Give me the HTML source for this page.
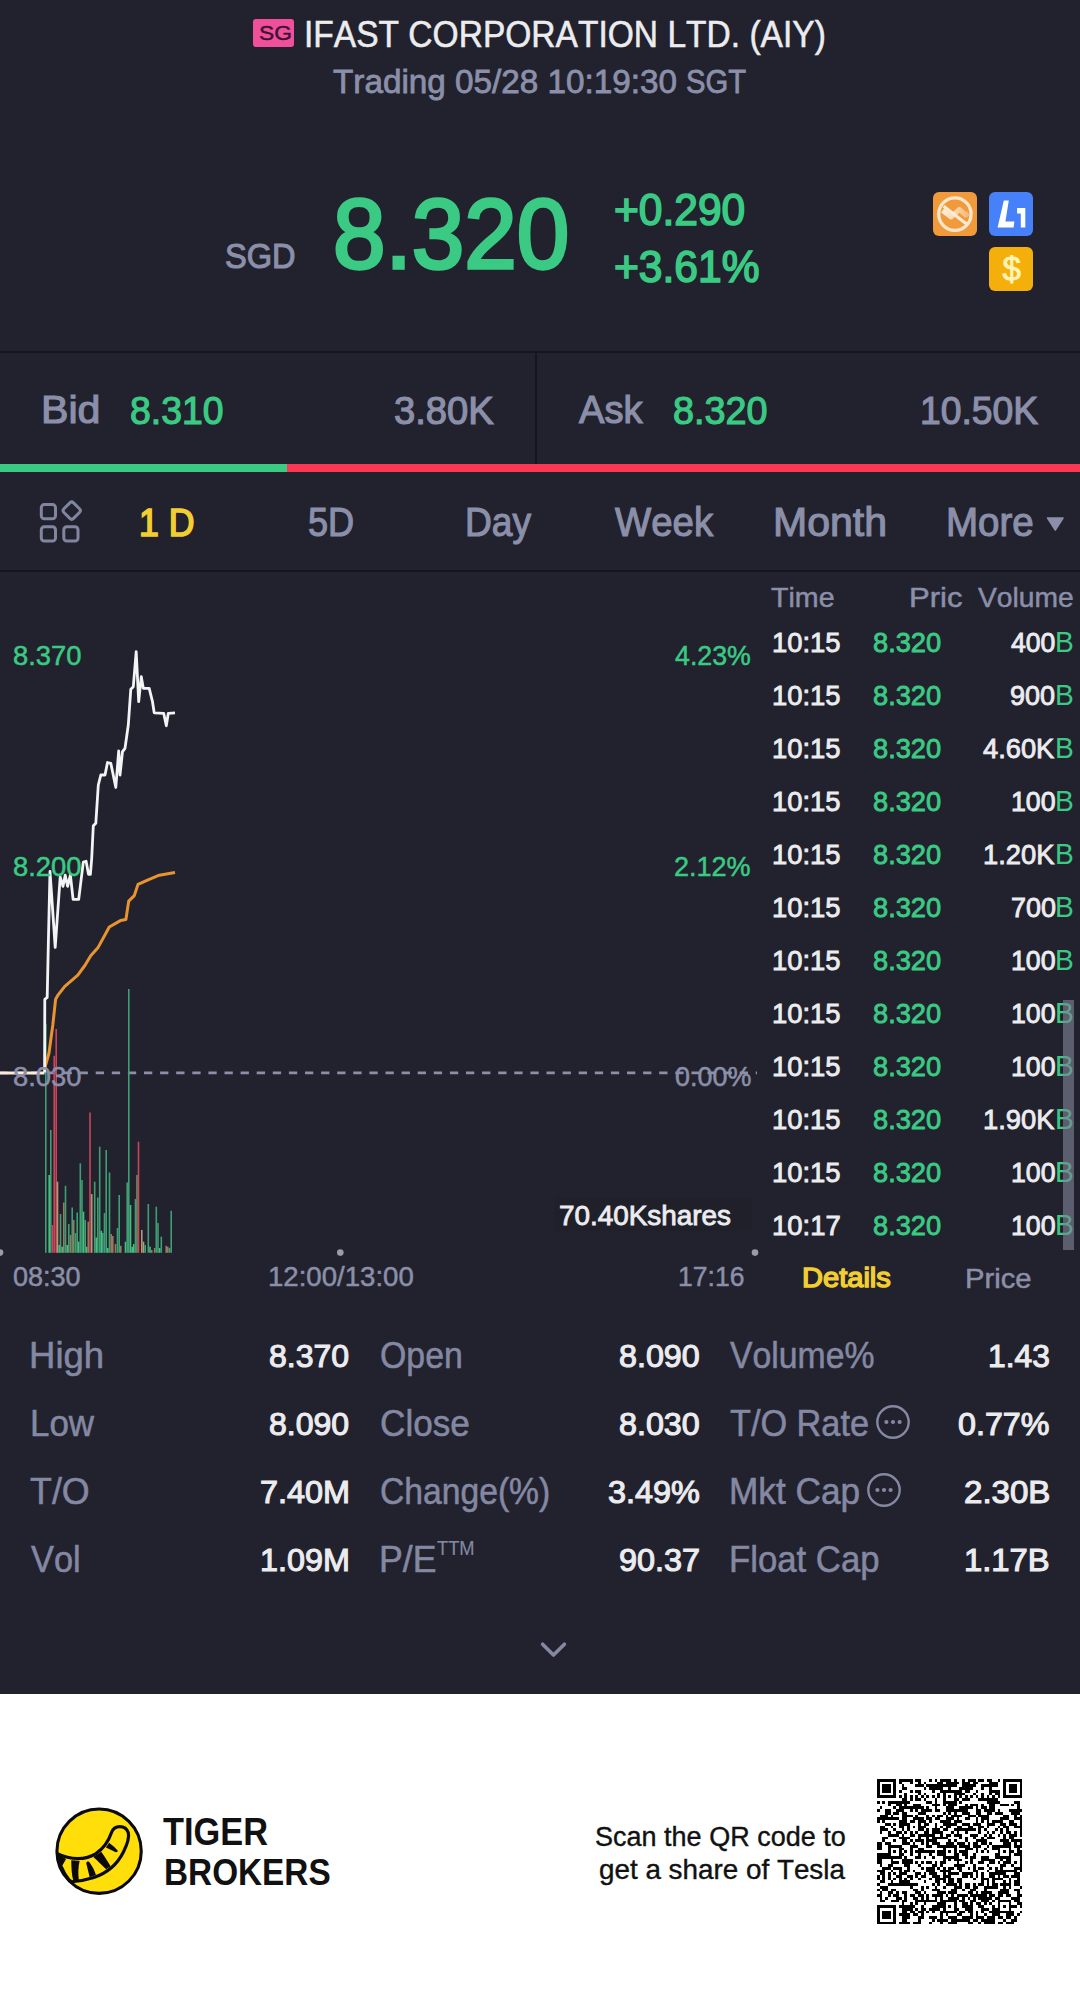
<!DOCTYPE html>
<html lang="en"><head><meta charset="utf-8"><title>IFAST CORPORATION LTD. (AIY)</title>
<style>
html,body{margin:0;padding:0}
body{width:1080px;height:2010px;position:relative;overflow:hidden;background:#21222d;font-family:"Liberation Sans",sans-serif;font-kerning:none;font-variant-ligatures:none;-webkit-font-smoothing:antialiased}
.t{position:absolute;white-space:nowrap;line-height:1;transform-origin:0 0;display:block}
.b{position:absolute;display:block}
</style></head><body>
<header aria-label="Stock header">
<div class="b" style="left:253px;top:19px;width:41px;height:28px;background:#f0509b;border-radius:3px;"></div>
<span class="t" style="left:258.56px;top:23.08px;font-size:20.9px;color:#3b1230;transform:scaleX(1.0913);-webkit-text-stroke:0.43px #3b1230;">SG</span>
<span class="t" style="left:303.85px;top:17.23px;font-size:36.7px;color:#ececef;transform:scaleX(0.9143);-webkit-text-stroke:0.55px #ececef;">IFAST CORPORATION LTD. (AIY)</span>
<span class="t" style="left:332.62px;top:65.19px;font-size:33.6px;color:#8b8fa9;transform:scaleX(0.9909);-webkit-text-stroke:0.81px #8b8fa9;">Trading 05/28 10:19:30</span>
<span class="t" style="left:686.24px;top:65.07px;font-size:33.2px;color:#8b8fa9;transform:scaleX(0.8800);-webkit-text-stroke:0.82px #8b8fa9;">SGT</span>
</header>
<section aria-label="Quote">
<span class="t" style="left:224.82px;top:239.49px;font-size:35.7px;color:#8b8fa9;transform:scaleX(0.9130);-webkit-text-stroke:1.12px #8b8fa9;">SGD</span>
<span class="t" style="left:332.98px;top:184.70px;font-size:98.3px;color:#3bca84;transform:scaleX(0.9607);-webkit-text-stroke:3.29px #3bca84;">8.320</span>
<span class="t" style="left:614.47px;top:187.44px;font-size:44.8px;color:#3bca84;transform:scaleX(0.9485);-webkit-text-stroke:1.65px #3bca84;">+0.290</span>
<span class="t" style="left:614.46px;top:244.74px;font-size:44.7px;color:#3bca84;transform:scaleX(0.9520);-webkit-text-stroke:1.64px #3bca84;">+3.61%</span>
<svg class="b" style="left:933px;top:192px" width="44" height="44" viewBox="0 0 44 44"><defs><linearGradient id="zg" x1="0" y1="0" x2="1" y2="0"><stop offset="0" stop-color="#fef1de"/><stop offset="1" stop-color="#f7b973"/></linearGradient></defs><rect width="44" height="44" rx="6" fill="#f09a3b"/><path d="M9.6 18.4l8.6 6.6 8.2-7.6 6.4 5.6 2.6-1.6" fill="none" stroke="url(#zg)" stroke-width="5" stroke-linejoin="round"/><circle cx="21.9" cy="22.1" r="16.2" fill="none" stroke="#fde6cb" stroke-width="3.3"/><path d="M10.6 14.2L33.6 32" stroke="#fdebd6" stroke-width="3.2"/></svg>
<svg class="b" style="left:989px;top:192px" width="44" height="44" viewBox="0 0 44 44"><rect width="44" height="44" rx="6" fill="#4681fa"/><path d="M14.8 8.6h5l-3.4 20.8h9l-.8 6H8.6z" fill="#fff"/><path d="M28.1 15.9h8.2v19.5h-4.5v-14h-3.7z" fill="#fff"/></svg>
<svg class="b" style="left:989px;top:247px" width="44" height="44" viewBox="0 0 44 44"><rect width="44" height="44" rx="6" fill="#f5af0b"/><text x="22.7" y="33.2" text-anchor="middle" font-family="Liberation Sans, sans-serif" font-size="33" fill="#fff4b8" stroke="#fff4b8" stroke-width="0.9">$</text></svg>
</section>
<section aria-label="Bid and ask">
<div class="b" style="left:0px;top:351px;width:1080px;height:2px;background:#15161d;"></div>
<div class="b" style="left:535px;top:352px;width:2px;height:112px;background:#15161d;"></div>
<span class="t" style="left:41.16px;top:390.41px;font-size:39.0px;color:#8b8fa9;transform:scaleX(1.0550);-webkit-text-stroke:1.18px #8b8fa9;">Bid</span>
<span class="t" style="left:129.92px;top:391.52px;font-size:38.6px;color:#3bca84;transform:scaleX(0.9680);-webkit-text-stroke:1.2px #3bca84;">8.310</span>
<span class="t" style="left:394.09px;top:391.52px;font-size:38.6px;color:#8b8fa9;transform:scaleX(0.9894);-webkit-text-stroke:1.2px #8b8fa9;">3.80K</span>
<span class="t" style="left:579.46px;top:390.41px;font-size:39.0px;color:#8b8fa9;transform:scaleX(0.9761);-webkit-text-stroke:1.18px #8b8fa9;">Ask</span>
<span class="t" style="left:672.90px;top:391.52px;font-size:38.6px;color:#3bca84;transform:scaleX(0.9787);-webkit-text-stroke:1.2px #3bca84;">8.320</span>
<span class="t" style="left:920.20px;top:391.52px;font-size:38.6px;color:#8b8fa9;transform:scaleX(0.9660);-webkit-text-stroke:1.2px #8b8fa9;">10.50K</span>
<div class="b" style="left:0px;top:463.5px;width:286.5px;height:8px;background:#3bca84;"></div>
<div class="b" style="left:286.5px;top:463.5px;width:793.5px;height:8px;background:#fb3853;"></div>
</section>
<section aria-label="Chart period tabs">
<svg class="b" style="left:36px;top:498px" width="50" height="48" viewBox="36 498 50 48" fill="none" stroke="#8185a0" stroke-width="3"><rect x="41.3" y="504.6" width="14.2" height="14.2" rx="3"/><rect x="41.3" y="526.8" width="14.2" height="14.2" rx="3"/><rect x="63.8" y="526.8" width="14.2" height="14.2" rx="3"/><rect x="64.9" y="503.8" width="13.6" height="13.6" rx="2.6" transform="rotate(45 71.7 510.6)"/></svg>
<span class="t" style="left:138.76px;top:502.84px;font-size:39.7px;color:#f2ce32;transform:scaleX(0.8979);-webkit-text-stroke:1.72px #f2ce32;">1 D</span>
<span class="t" style="left:308.37px;top:502.13px;font-size:40.5px;color:#8b8fa9;transform:scaleX(0.8913);-webkit-text-stroke:1.14px #8b8fa9;">5D</span>
<span class="t" style="left:465.16px;top:502.13px;font-size:40.5px;color:#8b8fa9;transform:scaleX(0.9177);-webkit-text-stroke:1.14px #8b8fa9;">Day</span>
<span class="t" style="left:615.34px;top:502.13px;font-size:40.5px;color:#8b8fa9;transform:scaleX(0.9475);-webkit-text-stroke:1.14px #8b8fa9;">Week</span>
<span class="t" style="left:772.55px;top:502.13px;font-size:40.5px;color:#8b8fa9;transform:scaleX(1.0128);-webkit-text-stroke:1.14px #8b8fa9;">Month</span>
<span class="t" style="left:946.05px;top:502.13px;font-size:40.5px;color:#8b8fa9;transform:scaleX(0.9509);-webkit-text-stroke:1.14px #8b8fa9;">More</span>
<svg class="b" style="left:1045px;top:515px" width="20" height="18" viewBox="1045 515 20 18"><path d="M1047.6 518h15.4l-7.7 12z" fill="#8b8fa9" stroke="#8b8fa9" stroke-width="1.6" stroke-linejoin="round"/></svg>
<div class="b" style="left:0px;top:570px;width:1080px;height:2px;background:#15161d;"></div>
</section>
<section aria-label="Intraday chart">
<svg class="b" style="left:0;top:575px" width="760" height="690" viewBox="0 575 760 690"><line x1="-0.9" y1="1072.9" x2="757" y2="1072.9" stroke="#8c8fa8" stroke-width="2.8" stroke-dasharray="8.3 7.8"/><rect x="45.0" y="1024.0" width="1.6" height="228.8" fill="#3f9e73"/><rect x="48.4" y="1175.0" width="1.6" height="77.8" fill="#45c083"/><rect x="50.0" y="1130.0" width="1.6" height="122.8" fill="#3f9e73"/><rect x="51.7" y="1225.0" width="1.6" height="27.8" fill="#c8455a"/><rect x="53.4" y="1055.8" width="1.6" height="197.0" fill="#c8455a"/><rect x="55.4" y="1029.0" width="1.6" height="223.8" fill="#c8455a"/><rect x="56.7" y="1181.7" width="1.6" height="71.1" fill="#b09a7a"/><rect x="58.4" y="1245.0" width="1.6" height="7.8" fill="#45c083"/><rect x="59.7" y="1214.0" width="1.6" height="38.8" fill="#3f9e73"/><rect x="61.4" y="1246.7" width="1.6" height="6.1" fill="#45c083"/><rect x="63.0" y="1202.5" width="1.6" height="50.3" fill="#9a7a5c"/><rect x="64.7" y="1185.8" width="1.6" height="67.0" fill="#3f9e73"/><rect x="66.4" y="1245.0" width="1.6" height="7.8" fill="#45c083"/><rect x="68.0" y="1224.0" width="1.6" height="28.8" fill="#3f9e73"/><rect x="69.7" y="1235.0" width="1.6" height="17.8" fill="#9a7a5c"/><rect x="71.4" y="1207.5" width="1.6" height="45.3" fill="#3f9e73"/><rect x="72.9" y="1220.0" width="1.6" height="32.8" fill="#9a7a5c"/><rect x="74.7" y="1233.0" width="1.6" height="19.8" fill="#3f9e73"/><rect x="76.4" y="1212.5" width="1.6" height="40.3" fill="#3f9e73"/><rect x="77.9" y="1241.7" width="1.6" height="11.1" fill="#45c083"/><rect x="79.5" y="1163.3" width="1.6" height="89.5" fill="#3f9e73"/><rect x="81.2" y="1180.0" width="1.6" height="72.8" fill="#3f9e73"/><rect x="82.7" y="1211.7" width="1.6" height="41.1" fill="#45c083"/><rect x="84.4" y="1220.0" width="1.6" height="32.8" fill="#3f9e73"/><rect x="85.9" y="1246.7" width="1.6" height="6.1" fill="#45c083"/><rect x="87.5" y="1221.7" width="1.6" height="31.1" fill="#9a7a5c"/><rect x="89.2" y="1112.5" width="1.6" height="140.3" fill="#c8455a"/><rect x="90.9" y="1194.0" width="1.6" height="58.8" fill="#b09a7a"/><rect x="93.9" y="1181.7" width="1.6" height="71.1" fill="#3f9e73"/><rect x="95.5" y="1237.5" width="1.6" height="15.3" fill="#45c083"/><rect x="97.0" y="1197.5" width="1.6" height="55.3" fill="#3f9e73"/><rect x="98.9" y="1146.7" width="1.6" height="106.1" fill="#3f9e73"/><rect x="100.5" y="1230.8" width="1.6" height="22.0" fill="#45c083"/><rect x="102.0" y="1233.0" width="1.6" height="19.8" fill="#3f9e73"/><rect x="103.7" y="1213.0" width="1.6" height="39.8" fill="#3f9e73"/><rect x="105.4" y="1150.0" width="1.6" height="102.8" fill="#3f9e73"/><rect x="107.0" y="1248.0" width="1.6" height="4.8" fill="#45c083"/><rect x="108.7" y="1172.5" width="1.6" height="80.3" fill="#3f9e73"/><rect x="110.4" y="1234.0" width="1.6" height="18.8" fill="#9a7a5c"/><rect x="112.0" y="1236.0" width="1.6" height="16.8" fill="#9a7a5c"/><rect x="114.7" y="1244.0" width="1.6" height="8.8" fill="#9a7a5c"/><rect x="116.7" y="1228.0" width="1.6" height="24.8" fill="#3f9e73"/><rect x="118.4" y="1195.0" width="1.6" height="57.8" fill="#3f9e73"/><rect x="120.0" y="1245.8" width="1.6" height="7.0" fill="#9a7a5c"/><rect x="124.7" y="1241.7" width="1.6" height="11.1" fill="#45c083"/><rect x="126.4" y="1182.5" width="1.6" height="70.3" fill="#3f9e73"/><rect x="128.0" y="989.0" width="1.6" height="263.8" fill="#3f9e73"/><rect x="129.7" y="1205.0" width="1.6" height="47.8" fill="#45c083"/><rect x="131.4" y="1246.7" width="1.6" height="6.1" fill="#45c083"/><rect x="133.0" y="1244.0" width="1.6" height="8.8" fill="#45c083"/><rect x="134.7" y="1199.0" width="1.6" height="53.8" fill="#3f9e73"/><rect x="136.2" y="1175.0" width="1.6" height="77.8" fill="#6f8f66"/><rect x="137.7" y="1141.7" width="1.6" height="111.1" fill="#c8455a"/><rect x="141.0" y="1230.0" width="1.6" height="22.8" fill="#b09a7a"/><rect x="142.7" y="1241.7" width="1.6" height="11.1" fill="#b09a7a"/><rect x="144.4" y="1245.0" width="1.6" height="7.8" fill="#3f9e73"/><rect x="147.5" y="1204.0" width="1.6" height="48.8" fill="#3f9e73"/><rect x="149.2" y="1246.7" width="1.6" height="6.1" fill="#45c083"/><rect x="150.9" y="1250.0" width="1.6" height="2.8" fill="#9a7a5c"/><rect x="153.9" y="1248.0" width="1.6" height="4.8" fill="#9a7a5c"/><rect x="155.5" y="1206.7" width="1.6" height="46.1" fill="#3f9e73"/><rect x="157.2" y="1223.0" width="1.6" height="29.8" fill="#3f9e73"/><rect x="158.9" y="1248.0" width="1.6" height="4.8" fill="#45c083"/><rect x="160.5" y="1236.7" width="1.6" height="16.1" fill="#3f9e73"/><rect x="165.4" y="1245.8" width="1.6" height="7.0" fill="#9a7a5c"/><rect x="167.0" y="1246.7" width="1.6" height="6.1" fill="#9a7a5c"/><rect x="168.7" y="1248.0" width="1.6" height="4.8" fill="#3f9e73"/><rect x="170.4" y="1210.8" width="1.6" height="42.0" fill="#3f9e73"/><polyline fill="none" stroke="#ea9430" stroke-width="3" stroke-linejoin="round" points="44.4,1069.6 49,1053 52.8,1025 55.6,999.3 58.3,994.6 64.8,986.3 77.8,975.2 85.2,965 90.7,955.7 98.1,947.4 109.3,927 120.4,920.6 125.9,919.6 128.7,901.1 134.3,895.6 138,884.4 148.1,879.8 159.3,875.2 175,872.4"/><polyline fill="none" stroke="#f4f4f6" stroke-width="2.8" stroke-linejoin="round" points="44.6,1072.4 44.8,999.3 47.2,997.4 48.5,936.3 50,871.5 53.7,925.2 55.2,947.4 60.2,877 63,886.3 65.2,875.2 67.6,886.3 70.4,875.2 73.1,899.3 78.7,899.3 83.3,862.2 86.1,861.3 88.5,874.3 90.4,874.3 91.7,858.5 93.3,825.8 95.8,823.3 98.3,785 100.8,775 105,775 107.5,762.5 110.8,763.3 115.8,787.5 118.7,750.8 120,775 122.5,751.7 125,748.3 128.3,725 130.8,689.2 133.3,686.7 136.2,651.7 138.7,701.7 141.3,676.7 143.3,688.3 149.2,688.3 152.5,701.7 154.2,712.8 163.7,713.3 166.3,725.8 168.3,713.3 175,712.8"/><line x1="0" y1="1072.9" x2="44.5" y2="1072.9" stroke="#fcebd9" stroke-width="3"/><circle cx="0" cy="1252.6" r="3.3" fill="#9a9ca8"/><circle cx="340.3" cy="1252.6" r="3.3" fill="#9a9ca8"/><circle cx="755" cy="1252.6" r="3.3" fill="#9a9ca8"/></svg>
<span class="t" style="left:13.04px;top:642.07px;font-size:27.8px;color:#3bca84;transform:scaleX(0.9846);-webkit-text-stroke:0.51px #3bca84;">8.370</span>
<span class="t" style="left:675.22px;top:641.35px;font-size:28.2px;color:#3bca84;transform:scaleX(0.9493);-webkit-text-stroke:0.51px #3bca84;">4.23%</span>
<span class="t" style="left:13.04px;top:852.97px;font-size:27.8px;color:#3bca84;transform:scaleX(0.9846);-webkit-text-stroke:0.51px #3bca84;">8.200</span>
<span class="t" style="left:674.47px;top:852.25px;font-size:28.2px;color:#3bca84;transform:scaleX(0.9588);-webkit-text-stroke:0.51px #3bca84;">2.12%</span>
<span class="t" style="left:13.04px;top:1063.27px;font-size:27.8px;color:#8b8fa9;transform:scaleX(0.9846);-webkit-text-stroke:0.51px #8b8fa9;">8.030</span>
<span class="t" style="left:674.78px;top:1063.27px;font-size:27.8px;color:#8b8fa9;transform:scaleX(0.9686);-webkit-text-stroke:0.51px #8b8fa9;">0.00%</span>
<div class="b" style="left:554px;top:1197px;width:198px;height:34px;background:#1f202a;"></div>
<span class="t" style="left:558.97px;top:1200.58px;font-size:28.3px;color:#ececef;transform:scaleX(0.9852);-webkit-text-stroke:0.88px #ececef;">70.40Kshares</span>
<span class="t" style="left:13.17px;top:1262.68px;font-size:27.5px;color:#8b8fa9;transform:scaleX(0.9831);-webkit-text-stroke:0.51px #8b8fa9;">08:30</span>
<span class="t" style="left:268.13px;top:1262.68px;font-size:27.5px;color:#8b8fa9;transform:scaleX(1.0031);-webkit-text-stroke:0.51px #8b8fa9;">12:00/13:00</span>
<span class="t" style="left:677.81px;top:1262.68px;font-size:27.5px;color:#8b8fa9;transform:scaleX(0.9653);-webkit-text-stroke:0.51px #8b8fa9;">17:16</span>
</section>
<section aria-label="Time and sales">
<span class="t" style="left:771.48px;top:584.36px;font-size:27.3px;color:#8b8fa9;transform:scaleX(1.0479);-webkit-text-stroke:0.49px #8b8fa9;">Time</span>
<span class="t" style="left:908.68px;top:584.36px;font-size:27.3px;color:#8b8fa9;transform:scaleX(1.1363);-webkit-text-stroke:0.49px #8b8fa9;">Pric</span>
<span class="t" style="left:977.90px;top:584.36px;font-size:27.3px;color:#8b8fa9;transform:scaleX(1.0343);-webkit-text-stroke:0.49px #8b8fa9;">Volume</span>
<span class="t" style="left:771.60px;top:628.50px;font-size:27.6px;color:#ececef;transform:scaleX(0.9927);-webkit-text-stroke:0.86px #ececef;">10:15</span>
<span class="t" style="left:873.20px;top:628.50px;font-size:27.6px;color:#3bca84;transform:scaleX(0.9871);-webkit-text-stroke:0.86px #3bca84;">8.320</span>
<span class="t" style="left:1011.08px;top:628.50px;font-size:27.6px;color:#ececef;transform:scaleX(0.9636);-webkit-text-stroke:0.86px #ececef;">400</span>
<span class="t" style="left:1055.29px;top:627.90px;font-size:28.6px;color:#3bca84;transform:scaleX(0.9854);">B</span>
<span class="t" style="left:771.60px;top:681.50px;font-size:27.6px;color:#ececef;transform:scaleX(0.9927);-webkit-text-stroke:0.86px #ececef;">10:15</span>
<span class="t" style="left:873.20px;top:681.50px;font-size:27.6px;color:#3bca84;transform:scaleX(0.9871);-webkit-text-stroke:0.86px #3bca84;">8.320</span>
<span class="t" style="left:1010.42px;top:681.50px;font-size:27.6px;color:#ececef;transform:scaleX(0.9782);-webkit-text-stroke:0.86px #ececef;">900</span>
<span class="t" style="left:1055.29px;top:680.90px;font-size:28.6px;color:#3bca84;transform:scaleX(0.9854);">B</span>
<span class="t" style="left:771.60px;top:734.50px;font-size:27.6px;color:#ececef;transform:scaleX(0.9927);-webkit-text-stroke:0.86px #ececef;">10:15</span>
<span class="t" style="left:873.20px;top:734.50px;font-size:27.6px;color:#3bca84;transform:scaleX(0.9871);-webkit-text-stroke:0.86px #3bca84;">8.320</span>
<span class="t" style="left:983.46px;top:734.50px;font-size:27.6px;color:#ececef;transform:scaleX(0.9880);-webkit-text-stroke:0.86px #ececef;">4.60K</span>
<span class="t" style="left:1055.29px;top:733.90px;font-size:28.6px;color:#3bca84;transform:scaleX(0.9854);">B</span>
<span class="t" style="left:771.60px;top:787.50px;font-size:27.6px;color:#ececef;transform:scaleX(0.9927);-webkit-text-stroke:0.86px #ececef;">10:15</span>
<span class="t" style="left:873.20px;top:787.50px;font-size:27.6px;color:#3bca84;transform:scaleX(0.9871);-webkit-text-stroke:0.86px #3bca84;">8.320</span>
<span class="t" style="left:1010.85px;top:787.50px;font-size:27.6px;color:#ececef;transform:scaleX(0.9687);-webkit-text-stroke:0.86px #ececef;">100</span>
<span class="t" style="left:1055.29px;top:786.90px;font-size:28.6px;color:#3bca84;transform:scaleX(0.9854);">B</span>
<span class="t" style="left:771.60px;top:840.50px;font-size:27.6px;color:#ececef;transform:scaleX(0.9927);-webkit-text-stroke:0.86px #ececef;">10:15</span>
<span class="t" style="left:873.20px;top:840.50px;font-size:27.6px;color:#3bca84;transform:scaleX(0.9871);-webkit-text-stroke:0.86px #3bca84;">8.320</span>
<span class="t" style="left:983.31px;top:840.50px;font-size:27.6px;color:#ececef;transform:scaleX(0.9901);-webkit-text-stroke:0.86px #ececef;">1.20K</span>
<span class="t" style="left:1055.29px;top:839.90px;font-size:28.6px;color:#3bca84;transform:scaleX(0.9854);">B</span>
<span class="t" style="left:771.60px;top:893.50px;font-size:27.6px;color:#ececef;transform:scaleX(0.9927);-webkit-text-stroke:0.86px #ececef;">10:15</span>
<span class="t" style="left:873.20px;top:893.50px;font-size:27.6px;color:#3bca84;transform:scaleX(0.9871);-webkit-text-stroke:0.86px #3bca84;">8.320</span>
<span class="t" style="left:1010.51px;top:893.50px;font-size:27.6px;color:#ececef;transform:scaleX(0.9763);-webkit-text-stroke:0.86px #ececef;">700</span>
<span class="t" style="left:1055.29px;top:892.90px;font-size:28.6px;color:#3bca84;transform:scaleX(0.9854);">B</span>
<span class="t" style="left:771.60px;top:946.50px;font-size:27.6px;color:#ececef;transform:scaleX(0.9927);-webkit-text-stroke:0.86px #ececef;">10:15</span>
<span class="t" style="left:873.20px;top:946.50px;font-size:27.6px;color:#3bca84;transform:scaleX(0.9871);-webkit-text-stroke:0.86px #3bca84;">8.320</span>
<span class="t" style="left:1010.85px;top:946.50px;font-size:27.6px;color:#ececef;transform:scaleX(0.9687);-webkit-text-stroke:0.86px #ececef;">100</span>
<span class="t" style="left:1055.29px;top:945.90px;font-size:28.6px;color:#3bca84;transform:scaleX(0.9854);">B</span>
<span class="t" style="left:771.60px;top:999.50px;font-size:27.6px;color:#ececef;transform:scaleX(0.9927);-webkit-text-stroke:0.86px #ececef;">10:15</span>
<span class="t" style="left:873.20px;top:999.50px;font-size:27.6px;color:#3bca84;transform:scaleX(0.9871);-webkit-text-stroke:0.86px #3bca84;">8.320</span>
<span class="t" style="left:1010.85px;top:999.50px;font-size:27.6px;color:#ececef;transform:scaleX(0.9687);-webkit-text-stroke:0.86px #ececef;">100</span>
<span class="t" style="left:1055.29px;top:998.90px;font-size:28.6px;color:#3bca84;transform:scaleX(0.9854);">B</span>
<span class="t" style="left:771.60px;top:1052.50px;font-size:27.6px;color:#ececef;transform:scaleX(0.9927);-webkit-text-stroke:0.86px #ececef;">10:15</span>
<span class="t" style="left:873.20px;top:1052.50px;font-size:27.6px;color:#3bca84;transform:scaleX(0.9871);-webkit-text-stroke:0.86px #3bca84;">8.320</span>
<span class="t" style="left:1010.85px;top:1052.50px;font-size:27.6px;color:#ececef;transform:scaleX(0.9687);-webkit-text-stroke:0.86px #ececef;">100</span>
<span class="t" style="left:1055.29px;top:1051.90px;font-size:28.6px;color:#3bca84;transform:scaleX(0.9854);">B</span>
<span class="t" style="left:771.60px;top:1105.50px;font-size:27.6px;color:#ececef;transform:scaleX(0.9927);-webkit-text-stroke:0.86px #ececef;">10:15</span>
<span class="t" style="left:873.20px;top:1105.50px;font-size:27.6px;color:#3bca84;transform:scaleX(0.9871);-webkit-text-stroke:0.86px #3bca84;">8.320</span>
<span class="t" style="left:983.31px;top:1105.50px;font-size:27.6px;color:#ececef;transform:scaleX(0.9901);-webkit-text-stroke:0.86px #ececef;">1.90K</span>
<span class="t" style="left:1055.29px;top:1104.90px;font-size:28.6px;color:#3bca84;transform:scaleX(0.9854);">B</span>
<span class="t" style="left:771.60px;top:1158.50px;font-size:27.6px;color:#ececef;transform:scaleX(0.9927);-webkit-text-stroke:0.86px #ececef;">10:15</span>
<span class="t" style="left:873.20px;top:1158.50px;font-size:27.6px;color:#3bca84;transform:scaleX(0.9871);-webkit-text-stroke:0.86px #3bca84;">8.320</span>
<span class="t" style="left:1010.85px;top:1158.50px;font-size:27.6px;color:#ececef;transform:scaleX(0.9687);-webkit-text-stroke:0.86px #ececef;">100</span>
<span class="t" style="left:1055.29px;top:1157.90px;font-size:28.6px;color:#3bca84;transform:scaleX(0.9854);">B</span>
<span class="t" style="left:771.59px;top:1211.50px;font-size:27.6px;color:#ececef;transform:scaleX(0.9962);-webkit-text-stroke:0.86px #ececef;">10:17</span>
<span class="t" style="left:873.20px;top:1211.50px;font-size:27.6px;color:#3bca84;transform:scaleX(0.9871);-webkit-text-stroke:0.86px #3bca84;">8.320</span>
<span class="t" style="left:1010.85px;top:1211.50px;font-size:27.6px;color:#ececef;transform:scaleX(0.9687);-webkit-text-stroke:0.86px #ececef;">100</span>
<span class="t" style="left:1055.29px;top:1210.90px;font-size:28.6px;color:#3bca84;transform:scaleX(0.9854);">B</span>
<div class="b" style="left:1063.3px;top:1000px;width:10.7px;height:250px;background:rgba(128,131,152,0.62);"></div>
<span class="t" style="left:801.85px;top:1265.10px;font-size:27.0px;color:#f2ce32;transform:scaleX(1.0768);-webkit-text-stroke:1.41px #f2ce32;">Details</span>
<span class="t" style="left:964.53px;top:1263.54px;font-size:28.3px;color:#8b8fa9;transform:scaleX(1.0319);-webkit-text-stroke:0.51px #8b8fa9;">Price</span>
</section>
<section aria-label="Key statistics">
<span class="t" style="left:29.44px;top:1337.63px;font-size:36.4px;color:#8488a2;transform:scaleX(1.0043);-webkit-text-stroke:0.54px #8488a2;">High</span>
<span class="t" style="left:269.09px;top:1340.65px;font-size:31.4px;color:#ececef;transform:scaleX(1.0203);-webkit-text-stroke:1.08px #ececef;">8.370</span>
<span class="t" style="left:29.58px;top:1405.63px;font-size:36.4px;color:#8488a2;transform:scaleX(0.9599);-webkit-text-stroke:0.54px #8488a2;">Low</span>
<span class="t" style="left:269.09px;top:1408.65px;font-size:31.4px;color:#ececef;transform:scaleX(1.0203);-webkit-text-stroke:1.08px #ececef;">8.090</span>
<span class="t" style="left:30.24px;top:1473.63px;font-size:36.4px;color:#8488a2;transform:scaleX(0.9847);-webkit-text-stroke:0.54px #8488a2;">T/O</span>
<span class="t" style="left:259.82px;top:1476.65px;font-size:31.4px;color:#ececef;transform:scaleX(1.0318);-webkit-text-stroke:1.08px #ececef;">7.40M</span>
<span class="t" style="left:30.89px;top:1541.63px;font-size:36.4px;color:#8488a2;transform:scaleX(0.9440);-webkit-text-stroke:0.54px #8488a2;">Vol</span>
<span class="t" style="left:260.02px;top:1544.65px;font-size:31.4px;color:#ececef;transform:scaleX(1.0295);-webkit-text-stroke:1.08px #ececef;">1.09M</span>
<span class="t" style="left:380.14px;top:1337.63px;font-size:36.4px;color:#8488a2;transform:scaleX(0.9300);-webkit-text-stroke:0.54px #8488a2;">Open</span>
<span class="t" style="left:619.08px;top:1340.65px;font-size:31.4px;color:#ececef;transform:scaleX(1.0269);-webkit-text-stroke:1.08px #ececef;">8.090</span>
<span class="t" style="left:379.96px;top:1405.63px;font-size:36.4px;color:#8488a2;transform:scaleX(0.9656);-webkit-text-stroke:0.54px #8488a2;">Close</span>
<span class="t" style="left:619.08px;top:1408.65px;font-size:31.4px;color:#ececef;transform:scaleX(1.0269);-webkit-text-stroke:1.08px #ececef;">8.030</span>
<span class="t" style="left:380.03px;top:1473.63px;font-size:36.4px;color:#8488a2;transform:scaleX(0.9250);-webkit-text-stroke:0.54px #8488a2;">Change(%)</span>
<span class="t" style="left:607.75px;top:1476.65px;font-size:31.4px;color:#ececef;transform:scaleX(1.0324);-webkit-text-stroke:1.08px #ececef;">3.49%</span>
<span class="t" style="left:378.82px;top:1541.63px;font-size:36.4px;color:#8488a2;transform:scaleX(0.9796);-webkit-text-stroke:0.54px #8488a2;">P/E</span>
<span class="t" style="left:618.97px;top:1544.65px;font-size:31.4px;color:#ececef;transform:scaleX(1.0331);-webkit-text-stroke:1.08px #ececef;">90.37</span>
<span class="t" style="left:730.39px;top:1337.63px;font-size:36.4px;color:#8488a2;transform:scaleX(0.9280);-webkit-text-stroke:0.54px #8488a2;">Volume%</span>
<span class="t" style="left:988.07px;top:1340.65px;font-size:31.4px;color:#ececef;transform:scaleX(1.0120);-webkit-text-stroke:1.08px #ececef;">1.43</span>
<span class="t" style="left:729.77px;top:1405.63px;font-size:36.4px;color:#8488a2;transform:scaleX(0.9414);-webkit-text-stroke:0.54px #8488a2;">T/O Rate</span>
<span class="t" style="left:958.23px;top:1408.65px;font-size:31.4px;color:#ececef;transform:scaleX(1.0270);-webkit-text-stroke:1.08px #ececef;">0.77%</span>
<span class="t" style="left:729.05px;top:1473.63px;font-size:36.4px;color:#8488a2;transform:scaleX(0.9680);-webkit-text-stroke:0.54px #8488a2;">Mkt Cap</span>
<span class="t" style="left:963.82px;top:1476.65px;font-size:31.4px;color:#ececef;transform:scaleX(1.0534);-webkit-text-stroke:1.08px #ececef;">2.30B</span>
<span class="t" style="left:729.09px;top:1541.63px;font-size:36.4px;color:#8488a2;transform:scaleX(0.9545);-webkit-text-stroke:0.54px #8488a2;">Float Cap</span>
<span class="t" style="left:964.49px;top:1544.65px;font-size:31.4px;color:#ececef;transform:scaleX(1.0451);-webkit-text-stroke:1.08px #ececef;">1.17B</span>
<span class="t" style="left:436.97px;top:1539.31px;font-size:19.8px;color:#8488a2;transform:scaleX(0.9253);-webkit-text-stroke:0.19px #8488a2;">TTM</span>
<svg class="b" style="left:875px;top:1403.5px" width="36" height="36" viewBox="-18 -18 36 36"><circle r="15.7" fill="none" stroke="#8488a2" stroke-width="2.4"/><circle cx="-6.6" r="2.1" fill="#8488a2"/><circle r="2.1" fill="#8488a2"/><circle cx="6.6" r="2.1" fill="#8488a2"/></svg>
<svg class="b" style="left:866.3px;top:1472px" width="36" height="36" viewBox="-18 -18 36 36"><circle r="15.7" fill="none" stroke="#8488a2" stroke-width="2.4"/><circle cx="-6.6" r="2.1" fill="#8488a2"/><circle r="2.1" fill="#8488a2"/><circle cx="6.6" r="2.1" fill="#8488a2"/></svg>
<svg class="b" style="left:536px;top:1636px" width="36" height="26" viewBox="536 1636 36 26"><path d="M542.6 1644.2l10.9 10.9 10.9-10.9" fill="none" stroke="#8488a3" stroke-width="3.6" stroke-linecap="round" stroke-linejoin="round"/></svg>
</section>
<footer aria-label="Tiger Brokers footer">
<div class="b" style="left:0px;top:1693.5px;width:1080px;height:316.5px;background:#ffffff;"></div>
<svg class="b" style="left:45px;top:1795px" width="110" height="110" viewBox="0 0 1080 1080"><circle cx="531" cy="552" r="414" fill="#ffde09" stroke="#0a0a0a" stroke-width="30"/>
<path d="M122 575C250 640 400 640 500 575C580 520 625 450 652 370C680 290 790 290 818 370C830 420 800 500 770 560C700 700 600 770 480 810C400 835 330 848 262 852L238 836Q185 770 160 706" fill="none" stroke="#0a0a0a" stroke-width="31" stroke-linecap="round" stroke-linejoin="round"/>
<path d="M116 572L207 628L162 708L126 660z" fill="#0a0a0a"/>
<path d="M258 640L340 645C325 710 325 770 332 832L278 845C262 780 258 710 258 640z" fill="#0a0a0a"/>
<path d="M405 670C410 645 430 650 440 665C470 705 490 750 500 785L438 808C428 760 415 710 405 670z" fill="#0a0a0a"/>
<path d="M474 608L552 558C588 608 618 658 644 700L600 730C560 690 520 648 474 608z" fill="#0a0a0a"/>
<path d="M598 515L630 468C660 490 700 525 715 548C712 562 700 565 690 560C660 545 630 528 598 515z" fill="#0a0a0a"/></svg>
<span class="t" style="left:163.41px;top:1813.50px;font-size:37.9px;color:#111;transform:scaleX(0.9066);font-weight:700;">TIGER</span>
<span class="t" style="left:163.77px;top:1853.50px;font-size:37.5px;color:#111;transform:scaleX(0.8886);font-weight:700;">BROKERS</span>
<span class="t" style="left:594.55px;top:1821.52px;font-size:28.2px;color:#111;transform:scaleX(0.9584);-webkit-text-stroke:0.4px #111;">Scan the QR code to</span>
<span class="t" style="left:598.61px;top:1855.31px;font-size:28.5px;color:#111;transform:scaleX(0.9763);-webkit-text-stroke:0.39px #111;">get a share of Tesla</span>
<svg class="b" style="left:876.8px;top:1778.8px" width="145.4" height="145.4" viewBox="0 0 53 53" shape-rendering="crispEdges"><path fill="#000" d="M0 0h7v1h-7zM8 0h5v1h-5zM14 0h2v1h-2zM19 0h1v1h-1zM21 0h1v1h-1zM23 0h4v1h-4zM28 0h1v1h-1zM31 0h1v1h-1zM33 0h3v1h-3zM37 0h2v1h-2zM40 0h2v1h-2zM44 0h1v1h-1zM46 0h7v1h-7zM0 1h1v1h-1zM6 1h1v1h-1zM8 1h1v1h-1zM12 1h1v1h-1zM15 1h1v1h-1zM17 1h1v1h-1zM22 1h2v1h-2zM25 1h5v1h-5zM31 1h3v1h-3zM35 1h2v1h-2zM41 1h3v1h-3zM46 1h1v1h-1zM52 1h1v1h-1zM0 2h1v1h-1zM2 2h3v1h-3zM6 2h1v1h-1zM9 2h1v1h-1zM14 2h3v1h-3zM18 2h11v1h-11zM31 2h5v1h-5zM38 2h6v1h-6zM46 2h1v1h-1zM48 2h3v1h-3zM52 2h1v1h-1zM0 3h1v1h-1zM2 3h3v1h-3zM6 3h1v1h-1zM9 3h2v1h-2zM17 3h1v1h-1zM19 3h5v1h-5zM26 3h1v1h-1zM30 3h5v1h-5zM38 3h1v1h-1zM41 3h1v1h-1zM46 3h1v1h-1zM48 3h3v1h-3zM52 3h1v1h-1zM0 4h1v1h-1zM2 4h3v1h-3zM6 4h1v1h-1zM8 4h1v1h-1zM12 4h1v1h-1zM14 4h2v1h-2zM20 4h1v1h-1zM23 4h8v1h-8zM32 4h2v1h-2zM36 4h1v1h-1zM41 4h4v1h-4zM46 4h1v1h-1zM48 4h3v1h-3zM52 4h1v1h-1zM0 5h1v1h-1zM6 5h1v1h-1zM10 5h1v1h-1zM15 5h1v1h-1zM17 5h1v1h-1zM22 5h1v1h-1zM24 5h1v1h-1zM28 5h4v1h-4zM35 5h1v1h-1zM38 5h1v1h-1zM41 5h1v1h-1zM43 5h2v1h-2zM46 5h1v1h-1zM52 5h1v1h-1zM0 6h7v1h-7zM8 6h1v1h-1zM10 6h1v1h-1zM12 6h1v1h-1zM14 6h1v1h-1zM16 6h1v1h-1zM18 6h1v1h-1zM20 6h1v1h-1zM22 6h1v1h-1zM24 6h1v1h-1zM26 6h1v1h-1zM28 6h1v1h-1zM30 6h1v1h-1zM32 6h1v1h-1zM34 6h1v1h-1zM36 6h1v1h-1zM38 6h1v1h-1zM40 6h1v1h-1zM42 6h1v1h-1zM44 6h1v1h-1zM46 6h7v1h-7zM9 7h2v1h-2zM12 7h1v1h-1zM14 7h2v1h-2zM17 7h1v1h-1zM21 7h1v1h-1zM24 7h1v1h-1zM28 7h2v1h-2zM31 7h3v1h-3zM37 7h7v1h-7zM0 8h1v1h-1zM2 8h1v1h-1zM4 8h8v1h-8zM18 8h2v1h-2zM21 8h1v1h-1zM24 8h5v1h-5zM30 8h1v1h-1zM40 8h5v1h-5zM50 8h2v1h-2zM4 9h1v1h-1zM7 9h2v1h-2zM10 9h1v1h-1zM13 9h3v1h-3zM20 9h3v1h-3zM24 9h1v1h-1zM26 9h3v1h-3zM32 9h1v1h-1zM34 9h3v1h-3zM38 9h1v1h-1zM41 9h2v1h-2zM45 9h3v1h-3zM49 9h1v1h-1zM51 9h1v1h-1zM1 10h1v1h-1zM6 10h1v1h-1zM8 10h9v1h-9zM18 10h1v1h-1zM21 10h1v1h-1zM25 10h3v1h-3zM30 10h5v1h-5zM36 10h1v1h-1zM38 10h2v1h-2zM41 10h2v1h-2zM51 10h1v1h-1zM0 11h1v1h-1zM3 11h2v1h-2zM7 11h3v1h-3zM12 11h1v1h-1zM14 11h1v1h-1zM16 11h4v1h-4zM21 11h2v1h-2zM25 11h8v1h-8zM36 11h2v1h-2zM39 11h4v1h-4zM44 11h1v1h-1zM48 11h5v1h-5zM3 12h2v1h-2zM6 12h2v1h-2zM9 12h2v1h-2zM15 12h3v1h-3zM24 12h1v1h-1zM26 12h1v1h-1zM28 12h1v1h-1zM31 12h3v1h-3zM36 12h2v1h-2zM40 12h2v1h-2zM43 12h3v1h-3zM49 12h3v1h-3zM1 13h3v1h-3zM5 13h1v1h-1zM9 13h4v1h-4zM14 13h1v1h-1zM18 13h1v1h-1zM20 13h1v1h-1zM22 13h2v1h-2zM25 13h1v1h-1zM27 13h4v1h-4zM33 13h3v1h-3zM37 13h4v1h-4zM46 13h2v1h-2zM50 13h1v1h-1zM52 13h1v1h-1zM0 14h8v1h-8zM9 14h2v1h-2zM13 14h4v1h-4zM18 14h2v1h-2zM21 14h2v1h-2zM25 14h3v1h-3zM29 14h1v1h-1zM32 14h2v1h-2zM36 14h1v1h-1zM38 14h3v1h-3zM45 14h3v1h-3zM50 14h3v1h-3zM0 15h1v1h-1zM2 15h1v1h-1zM8 15h3v1h-3zM12 15h2v1h-2zM15 15h3v1h-3zM19 15h1v1h-1zM23 15h4v1h-4zM28 15h3v1h-3zM36 15h1v1h-1zM38 15h1v1h-1zM40 15h1v1h-1zM42 15h4v1h-4zM48 15h2v1h-2zM52 15h1v1h-1zM3 16h2v1h-2zM6 16h1v1h-1zM8 16h4v1h-4zM15 16h1v1h-1zM17 16h2v1h-2zM21 16h1v1h-1zM24 16h5v1h-5zM31 16h3v1h-3zM35 16h3v1h-3zM40 16h3v1h-3zM45 16h2v1h-2zM48 16h3v1h-3zM52 16h1v1h-1zM1 17h2v1h-2zM5 17h1v1h-1zM8 17h2v1h-2zM11 17h1v1h-1zM13 17h1v1h-1zM15 17h3v1h-3zM21 17h1v1h-1zM23 17h1v1h-1zM25 17h2v1h-2zM29 17h2v1h-2zM33 17h2v1h-2zM37 17h2v1h-2zM40 17h1v1h-1zM44 17h1v1h-1zM46 17h2v1h-2zM50 17h3v1h-3zM1 18h3v1h-3zM6 18h1v1h-1zM9 18h1v1h-1zM11 18h1v1h-1zM15 18h2v1h-2zM18 18h1v1h-1zM20 18h3v1h-3zM24 18h2v1h-2zM28 18h8v1h-8zM37 18h1v1h-1zM39 18h1v1h-1zM43 18h1v1h-1zM45 18h1v1h-1zM47 18h1v1h-1zM52 18h1v1h-1zM1 19h1v1h-1zM4 19h1v1h-1zM7 19h2v1h-2zM10 19h1v1h-1zM12 19h1v1h-1zM14 19h1v1h-1zM17 19h2v1h-2zM20 19h4v1h-4zM27 19h1v1h-1zM29 19h1v1h-1zM32 19h1v1h-1zM37 19h1v1h-1zM40 19h1v1h-1zM42 19h1v1h-1zM45 19h1v1h-1zM47 19h2v1h-2zM50 19h1v1h-1zM52 19h1v1h-1zM4 20h4v1h-4zM9 20h1v1h-1zM12 20h2v1h-2zM15 20h6v1h-6zM23 20h1v1h-1zM25 20h2v1h-2zM28 20h3v1h-3zM34 20h3v1h-3zM39 20h1v1h-1zM41 20h1v1h-1zM44 20h1v1h-1zM46 20h1v1h-1zM48 20h3v1h-3zM52 20h1v1h-1zM2 21h2v1h-2zM8 21h4v1h-4zM15 21h1v1h-1zM18 21h1v1h-1zM20 21h6v1h-6zM30 21h1v1h-1zM32 21h1v1h-1zM35 21h1v1h-1zM38 21h1v1h-1zM40 21h3v1h-3zM46 21h1v1h-1zM48 21h2v1h-2zM2 22h1v1h-1zM6 22h1v1h-1zM9 22h2v1h-2zM12 22h1v1h-1zM14 22h3v1h-3zM18 22h4v1h-4zM26 22h1v1h-1zM28 22h1v1h-1zM32 22h1v1h-1zM36 22h4v1h-4zM45 22h3v1h-3zM49 22h4v1h-4zM0 23h2v1h-2zM3 23h2v1h-2zM9 23h3v1h-3zM13 23h1v1h-1zM16 23h1v1h-1zM18 23h1v1h-1zM20 23h3v1h-3zM25 23h3v1h-3zM29 23h3v1h-3zM33 23h1v1h-1zM35 23h2v1h-2zM38 23h2v1h-2zM41 23h1v1h-1zM46 23h3v1h-3zM50 23h1v1h-1zM52 23h1v1h-1zM0 24h2v1h-2zM4 24h5v1h-5zM12 24h3v1h-3zM18 24h2v1h-2zM22 24h7v1h-7zM30 24h4v1h-4zM35 24h3v1h-3zM40 24h1v1h-1zM42 24h7v1h-7zM50 24h3v1h-3zM0 25h2v1h-2zM4 25h1v1h-1zM8 25h2v1h-2zM12 25h1v1h-1zM15 25h2v1h-2zM24 25h1v1h-1zM28 25h1v1h-1zM32 25h3v1h-3zM36 25h1v1h-1zM39 25h1v1h-1zM42 25h3v1h-3zM48 25h1v1h-1zM51 25h1v1h-1zM4 26h1v1h-1zM6 26h1v1h-1zM8 26h1v1h-1zM10 26h1v1h-1zM12 26h1v1h-1zM14 26h7v1h-7zM22 26h3v1h-3zM26 26h1v1h-1zM28 26h1v1h-1zM30 26h3v1h-3zM36 26h1v1h-1zM38 26h1v1h-1zM40 26h1v1h-1zM44 26h1v1h-1zM46 26h1v1h-1zM48 26h2v1h-2zM51 26h2v1h-2zM0 27h5v1h-5zM8 27h2v1h-2zM12 27h1v1h-1zM15 27h1v1h-1zM19 27h1v1h-1zM22 27h3v1h-3zM28 27h2v1h-2zM31 27h2v1h-2zM35 27h1v1h-1zM43 27h2v1h-2zM48 27h1v1h-1zM50 27h3v1h-3zM0 28h9v1h-9zM10 28h1v1h-1zM14 28h2v1h-2zM17 28h1v1h-1zM20 28h1v1h-1zM24 28h6v1h-6zM32 28h1v1h-1zM34 28h2v1h-2zM38 28h3v1h-3zM43 28h6v1h-6zM52 28h1v1h-1zM0 29h2v1h-2zM5 29h1v1h-1zM9 29h4v1h-4zM24 29h1v1h-1zM26 29h1v1h-1zM28 29h3v1h-3zM34 29h1v1h-1zM38 29h5v1h-5zM45 29h1v1h-1zM47 29h2v1h-2zM52 29h1v1h-1zM0 30h2v1h-2zM5 30h3v1h-3zM9 30h4v1h-4zM14 30h1v1h-1zM16 30h1v1h-1zM18 30h2v1h-2zM21 30h1v1h-1zM23 30h2v1h-2zM29 30h1v1h-1zM32 30h1v1h-1zM34 30h1v1h-1zM37 30h2v1h-2zM41 30h2v1h-2zM44 30h1v1h-1zM46 30h3v1h-3zM50 30h1v1h-1zM52 30h1v1h-1zM1 31h1v1h-1zM4 31h2v1h-2zM10 31h2v1h-2zM15 31h1v1h-1zM20 31h2v1h-2zM23 31h1v1h-1zM28 31h4v1h-4zM35 31h1v1h-1zM40 31h1v1h-1zM45 31h2v1h-2zM49 31h1v1h-1zM52 31h1v1h-1zM2 32h3v1h-3zM6 32h3v1h-3zM11 32h1v1h-1zM16 32h1v1h-1zM18 32h3v1h-3zM22 32h1v1h-1zM24 32h1v1h-1zM26 32h2v1h-2zM29 32h2v1h-2zM33 32h1v1h-1zM35 32h1v1h-1zM37 32h2v1h-2zM41 32h1v1h-1zM43 32h1v1h-1zM45 32h1v1h-1zM50 32h3v1h-3zM0 33h3v1h-3zM5 33h1v1h-1zM8 33h1v1h-1zM10 33h2v1h-2zM13 33h1v1h-1zM18 33h3v1h-3zM23 33h4v1h-4zM30 33h1v1h-1zM35 33h2v1h-2zM40 33h1v1h-1zM43 33h8v1h-8zM52 33h1v1h-1zM1 34h2v1h-2zM4 34h1v1h-1zM6 34h1v1h-1zM8 34h3v1h-3zM14 34h2v1h-2zM17 34h1v1h-1zM19 34h3v1h-3zM24 34h1v1h-1zM26 34h4v1h-4zM31 34h4v1h-4zM36 34h1v1h-1zM38 34h1v1h-1zM41 34h6v1h-6zM50 34h2v1h-2zM0 35h1v1h-1zM2 35h1v1h-1zM4 35h1v1h-1zM7 35h2v1h-2zM11 35h2v1h-2zM14 35h1v1h-1zM16 35h2v1h-2zM20 35h3v1h-3zM24 35h3v1h-3zM31 35h2v1h-2zM34 35h1v1h-1zM36 35h1v1h-1zM38 35h1v1h-1zM41 35h2v1h-2zM44 35h1v1h-1zM46 35h2v1h-2zM49 35h3v1h-3zM0 36h1v1h-1zM2 36h1v1h-1zM4 36h1v1h-1zM6 36h1v1h-1zM8 36h1v1h-1zM10 36h1v1h-1zM12 36h1v1h-1zM15 36h1v1h-1zM19 36h1v1h-1zM21 36h4v1h-4zM26 36h2v1h-2zM29 36h2v1h-2zM35 36h1v1h-1zM38 36h3v1h-3zM42 36h4v1h-4zM48 36h1v1h-1zM51 36h1v1h-1zM1 37h2v1h-2zM5 37h1v1h-1zM8 37h4v1h-4zM17 37h1v1h-1zM21 37h2v1h-2zM24 37h1v1h-1zM26 37h2v1h-2zM29 37h2v1h-2zM38 37h1v1h-1zM40 37h1v1h-1zM42 37h1v1h-1zM46 37h1v1h-1zM48 37h1v1h-1zM50 37h2v1h-2zM0 38h1v1h-1zM4 38h11v1h-11zM20 38h1v1h-1zM22 38h1v1h-1zM25 38h4v1h-4zM30 38h1v1h-1zM32 38h2v1h-2zM35 38h1v1h-1zM37 38h2v1h-2zM40 38h1v1h-1zM42 38h2v1h-2zM45 38h4v1h-4zM50 38h2v1h-2zM1 39h3v1h-3zM12 39h1v1h-1zM16 39h1v1h-1zM18 39h1v1h-1zM21 39h1v1h-1zM24 39h1v1h-1zM28 39h3v1h-3zM32 39h2v1h-2zM35 39h2v1h-2zM39 39h5v1h-5zM46 39h1v1h-1zM48 39h1v1h-1zM52 39h1v1h-1zM0 40h1v1h-1zM2 40h2v1h-2zM5 40h2v1h-2zM13 40h2v1h-2zM16 40h1v1h-1zM20 40h3v1h-3zM27 40h2v1h-2zM31 40h1v1h-1zM34 40h2v1h-2zM39 40h1v1h-1zM45 40h3v1h-3zM50 40h2v1h-2zM1 41h1v1h-1zM4 41h2v1h-2zM7 41h1v1h-1zM9 41h2v1h-2zM14 41h2v1h-2zM17 41h1v1h-1zM22 41h3v1h-3zM26 41h3v1h-3zM33 41h2v1h-2zM36 41h1v1h-1zM38 41h4v1h-4zM44 41h4v1h-4zM51 41h1v1h-1zM0 42h2v1h-2zM4 42h1v1h-1zM6 42h2v1h-2zM10 42h1v1h-1zM12 42h2v1h-2zM15 42h2v1h-2zM18 42h1v1h-1zM20 42h4v1h-4zM25 42h1v1h-1zM27 42h1v1h-1zM29 42h4v1h-4zM34 42h6v1h-6zM41 42h2v1h-2zM44 42h2v1h-2zM47 42h2v1h-2zM51 42h2v1h-2zM1 43h1v1h-1zM3 43h1v1h-1zM7 43h2v1h-2zM10 43h1v1h-1zM13 43h2v1h-2zM16 43h1v1h-1zM18 43h1v1h-1zM21 43h1v1h-1zM23 43h1v1h-1zM26 43h4v1h-4zM31 43h1v1h-1zM33 43h1v1h-1zM35 43h1v1h-1zM37 43h5v1h-5zM43 43h2v1h-2zM49 43h3v1h-3zM1 44h2v1h-2zM5 44h3v1h-3zM9 44h2v1h-2zM14 44h8v1h-8zM23 44h6v1h-6zM30 44h2v1h-2zM34 44h2v1h-2zM38 44h3v1h-3zM42 44h1v1h-1zM44 44h5v1h-5zM50 44h2v1h-2zM9 45h1v1h-1zM12 45h1v1h-1zM14 45h1v1h-1zM17 45h1v1h-1zM22 45h3v1h-3zM28 45h1v1h-1zM31 45h2v1h-2zM34 45h1v1h-1zM36 45h2v1h-2zM39 45h1v1h-1zM41 45h1v1h-1zM44 45h1v1h-1zM48 45h1v1h-1zM51 45h2v1h-2zM0 46h7v1h-7zM8 46h6v1h-6zM16 46h1v1h-1zM20 46h5v1h-5zM26 46h1v1h-1zM28 46h1v1h-1zM31 46h4v1h-4zM37 46h2v1h-2zM42 46h1v1h-1zM44 46h1v1h-1zM46 46h1v1h-1zM48 46h3v1h-3zM52 46h1v1h-1zM0 47h1v1h-1zM6 47h1v1h-1zM9 47h4v1h-4zM14 47h1v1h-1zM16 47h2v1h-2zM19 47h4v1h-4zM24 47h1v1h-1zM28 47h2v1h-2zM32 47h3v1h-3zM38 47h3v1h-3zM42 47h3v1h-3zM48 47h1v1h-1zM0 48h1v1h-1zM2 48h3v1h-3zM6 48h1v1h-1zM9 48h2v1h-2zM12 48h2v1h-2zM15 48h2v1h-2zM18 48h1v1h-1zM20 48h1v1h-1zM23 48h6v1h-6zM30 48h2v1h-2zM33 48h2v1h-2zM36 48h1v1h-1zM38 48h1v1h-1zM41 48h9v1h-9zM52 48h1v1h-1zM0 49h1v1h-1zM2 49h3v1h-3zM6 49h1v1h-1zM8 49h4v1h-4zM13 49h2v1h-2zM16 49h1v1h-1zM23 49h1v1h-1zM25 49h1v1h-1zM29 49h2v1h-2zM34 49h1v1h-1zM36 49h1v1h-1zM39 49h1v1h-1zM42 49h3v1h-3zM47 49h3v1h-3zM51 49h1v1h-1zM0 50h1v1h-1zM2 50h3v1h-3zM6 50h1v1h-1zM9 50h3v1h-3zM15 50h2v1h-2zM19 50h3v1h-3zM23 50h1v1h-1zM26 50h3v1h-3zM31 50h4v1h-4zM36 50h3v1h-3zM40 50h3v1h-3zM44 50h2v1h-2zM47 50h2v1h-2zM50 50h1v1h-1zM0 51h1v1h-1zM6 51h1v1h-1zM9 51h2v1h-2zM15 51h1v1h-1zM20 51h1v1h-1zM22 51h4v1h-4zM27 51h7v1h-7zM35 51h2v1h-2zM38 51h5v1h-5zM46 51h1v1h-1zM49 51h2v1h-2zM0 52h7v1h-7zM8 52h4v1h-4zM13 52h3v1h-3zM19 52h1v1h-1zM23 52h1v1h-1zM26 52h3v1h-3zM33 52h2v1h-2zM37 52h1v1h-1zM39 52h4v1h-4zM44 52h2v1h-2zM47 52h3v1h-3z"/></svg>
</footer>
</body></html>
